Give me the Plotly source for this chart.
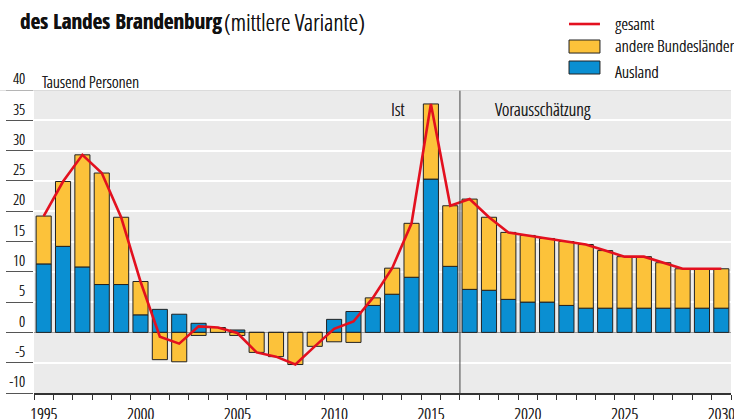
import plotly.graph_objects as go

years = list(range(1995, 2031))
ausland = [11.3, 14.2, 10.8, 7.9, 7.9, 2.9, 3.8, 3.0, 1.5, 0.0, 0.4, 0.0, 0.0, 0.0, 0.0,
           2.15, 3.45, 4.45, 6.3, 9.1, 25.3, 10.9, 7.1, 6.95, 5.45, 5.0, 5.0, 4.45,
           4.0, 4.0, 4.0, 4.0, 4.0, 4.0, 4.0, 4.0]
andere = [7.9, 10.7, 18.5, 18.4, 11.1, 5.5, -4.5, -4.85, -0.5, 0.8, -0.5, -3.3, -4.0, -5.3, -2.3,
          -1.55, -1.65, 1.25, 4.3, 8.9, 12.4, 10.0, 14.9, 12.05, 11.05, 11.0, 10.5, 10.55,
          10.5, 9.5, 8.5, 8.5, 7.5, 6.5, 6.5, 6.5]
gesamt = [19.2, 24.9, 29.3, 26.3, 19.0, 8.4, -0.7, -1.85, 1.0, 0.8, -0.1, -3.3, -4.0, -5.3, -2.3,
          0.6, 1.8, 5.7, 10.6, 18.0, 37.7, 20.9, 22.0, 19.0, 16.5, 16.0, 15.5, 15.0,
          14.5, 13.5, 12.5, 12.5, 11.5, 10.5, 10.5, 10.5]

y_ticks = [-10, -5, 0, 5, 10, 15, 20, 25, 30, 35, 40]
y_labels = ["-10", "-5", "0", "5", "10", "15", "20", "25", "30", "35", "40"]
x_label_years = [1995, 2000, 2005, 2010, 2015, 2020, 2025, 2030]
x_labels = [str(y) for y in x_label_years]
x_boundaries = [y - 0.5 for y in years] + [years[-1] + 0.5]

BLUE = "#0a8fd2"
YELLOW = "#fcc23a"
RED = "#e3101f"
FONT = "Open Sans Condensed Light, DejaVu Sans Condensed, sans-serif"
FONT_BOLD = "Open Sans Condensed, DejaVu Sans Condensed, sans-serif"
SHADOW = "0.35px 0 0 #1a1a1a"


def txt(size):
    return dict(family=FONT, size=size, color="#1a1a1a", shadow=SHADOW)


fig = go.Figure()
fig.add_trace(go.Bar(x=years, y=ausland, name="Ausland", marker=dict(color=BLUE, line=dict(color="#222222", width=1))))
fig.add_trace(go.Bar(x=years, y=andere, name="andere Bundesländer", marker=dict(color=YELLOW, line=dict(color="#222222", width=1))))
fig.add_trace(go.Scatter(x=years, y=gesamt, name="gesamt", mode="lines", line=dict(color=RED, width=2.6)))

fig.update_layout(
    width=734, height=419,
    margin=dict(l=34, r=3, t=90, b=26),
    barmode="relative", bargap=0.22,
    plot_bgcolor="#ebebeb", paper_bgcolor="white",
    showlegend=False,
    font=txt(15),
)
fig.update_xaxes(
    range=[1994.5, 2030.5], tickvals=x_label_years, ticktext=x_labels, ticks="",
    showgrid=False, zeroline=False, showline=True, linecolor="#333333", linewidth=2,
    minor=dict(tickvals=x_boundaries, ticks="outside", ticklen=5, tickcolor="#333333", tickwidth=1, showgrid=False),
    tickfont=txt(17), ticklabelstandoff=5, ticklabeloverflow="allow", automargin=False,
)
fig.update_yaxes(
    range=[-10, 40], tickvals=y_ticks, ticktext=y_labels, ticks="outside", ticklen=27,
    tickcolor="#555555", tickwidth=1, showgrid=True, gridcolor="white", gridwidth=1.5,
    zeroline=True, zerolinecolor="#9a9a9a", zerolinewidth=1, showline=False,
    ticklabelshift=-11, ticklabelstandoff=-22, tickfont=txt(15), automargin=False,
)

# vertical separator Ist / Vorausschätzung
fig.add_shape(type="line", xref="x", yref="paper", x0=2016.5, x1=2016.5, y0=0, y1=1,
              line=dict(color="#444444", width=1))
# top border line
fig.add_shape(type="line", xref="paper", yref="y", x0=-0.049, x1=1, y0=40, y1=40,
              line=dict(color="#d6d6d6", width=1.5), layer="above")

fig.add_annotation(x=2013.7, y=36.9, xref="x", yref="y", text="Ist", showarrow=False,
                   xanchor="right", yanchor="middle", font=txt(18))
fig.add_annotation(x=2018.2, y=36.9, xref="x", yref="y", text="Vorausschätzung", showarrow=False,
                   xanchor="left", yanchor="middle", font=txt(18))
fig.add_annotation(x=0.0086, y=1.0297, xref="paper", yref="paper", text="Tausend Personen",
                   showarrow=False, xanchor="left", yanchor="middle", font=txt(16.5))
fig.add_annotation(x=-0.023, y=1.2277, xref="paper", yref="paper", text="des Landes Brandenburg",
                   showarrow=False, xanchor="left", yanchor="middle",
                   font=dict(family=FONT_BOLD, size=21, color="#111111"))
fig.add_annotation(x=0.2697, y=1.2277, xref="paper", yref="paper", text="(mittlere Variante)",
                   showarrow=False, xanchor="left", yanchor="middle",
                   font=dict(family=FONT, size=24, color="#111111", shadow=SHADOW))

# custom legend
fig.add_shape(type="line", xref="paper", yref="paper", x0=0.7676, x1=0.812, y0=1.2178, y1=1.2178,
              line=dict(color=RED, width=2.6))
fig.add_shape(type="rect", xref="paper", yref="paper", x0=0.7676, x1=0.812, y0=1.122, y1=1.165,
              fillcolor=YELLOW, line=dict(color="#222222", width=1))
fig.add_shape(type="rect", xref="paper", yref="paper", x0=0.7676, x1=0.812, y0=1.0528, y1=1.0957,
              fillcolor=BLUE, line=dict(color="#222222", width=1))
for yy, label in [(1.2211, "gesamt"), (1.1461, "andere Bundesländer"), (1.0627, "Ausland")]:
    fig.add_annotation(x=0.8307, y=yy, xref="paper", yref="paper", text=label, showarrow=False,
                       xanchor="left", yanchor="middle", font=txt(17))

fig.write_html("out.html", config={"displayModeBar": False},
               post_script="document.body.style.margin='0';")
